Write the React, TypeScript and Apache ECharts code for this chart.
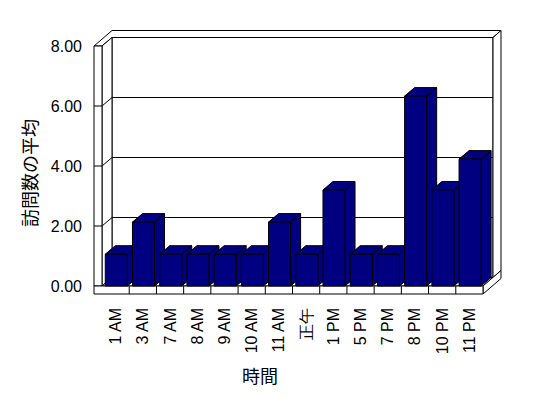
import React, { useEffect, useRef } from "react";
import * as echarts from "echarts";

const categories = ["1 AM", "3 AM", "7 AM", "8 AM", "9 AM", "10 AM", "11 AM", "正午", "1 PM", "5 PM", "7 PM", "8 PM", "10 PM", "11 PM"];
const visitAverages = [1.06, 2.13, 1.06, 1.06, 1.06, 1.06, 2.13, 1.06, 3.2, 1.06, 1.06, 6.33, 3.2, 4.23];
const yTicks = [0, 2, 4, 6, 8];
const xAxisTitle = "時間";
const yAxisTitle = "訪問数の平均";

const DX = 10;
const DY = -8.5;
const WALL = 8;
const BX = 8;
const BY = -7;
const NAVY = "#000080";
const FACE = { fill: "#ffffff", stroke: "#000000", lineWidth: 1 };
const EDGE = { stroke: "#000000", lineWidth: 1 };

function renderFrame(params: any, api: any) {
  const band = api.size([1, 0])[0];
  const x0 = api.coord([0, 0])[0] - band / 2;
  const x1 = api.coord([categories.length - 1, 0])[0] + band / 2;
  const yMin = yTicks[0];
  const yMax = yTicks[yTicks.length - 1];
  const y0 = api.coord([0, yMin])[1];
  const yT = api.coord([0, yMax])[1];
  const ch: any[] = [];
  // back wall front face
  ch.push({ type: "rect", shape: { x: x0 + DX, y: yT + DY, width: x1 - x0, height: y0 - yT }, style: FACE });
  yTicks.slice(1, -1).forEach((t) => {
    const y = api.coord([0, t])[1];
    ch.push({ type: "line", shape: { x1: x0 + DX, y1: y + DY, x2: x1 + DX, y2: y + DY }, style: EDGE });
  });
  // top of left wall + back wall
  ch.push({
    type: "polygon",
    shape: {
      points: [
        [x0 - WALL, yT],
        [x0, yT],
        [x0 + DX, yT + DY],
        [x1 + DX, yT + DY],
        [x1 + DX + BX, yT + DY + BY],
        [x0 - WALL + DX + BX, yT + DY + BY],
      ],
    },
    style: FACE,
  });
  // back wall right face
  ch.push({
    type: "polygon",
    shape: {
      points: [
        [x1 + DX, yT + DY],
        [x1 + DX + BX, yT + DY + BY],
        [x1 + DX + BX, y0 + DY + BY],
        [x1 + DX, y0 + DY],
      ],
    },
    style: FACE,
  });
  // left wall inner face
  ch.push({
    type: "polygon",
    shape: { points: [[x0, yT], [x0 + DX, yT + DY], [x0 + DX, y0 + DY], [x0, y0]] },
    style: FACE,
  });
  // left wall front face
  ch.push({ type: "rect", shape: { x: x0 - WALL, y: yT, width: WALL, height: y0 - yT }, style: FACE });
  yTicks.slice(1, -1).forEach((t) => {
    const y = api.coord([0, t])[1];
    ch.push({ type: "line", shape: { x1: x0 - WALL, y1: y, x2: x0, y2: y }, style: EDGE });
    ch.push({ type: "line", shape: { x1: x0, y1: y, x2: x0 + DX, y2: y + DY }, style: EDGE });
  });
  // floor top face
  ch.push({
    type: "polygon",
    shape: { points: [[x0, y0], [x1, y0], [x1 + DX, y0 + DY], [x0 + DX, y0 + DY]] },
    style: FACE,
  });
  // floor right face
  ch.push({
    type: "polygon",
    shape: {
      points: [
        [x1, y0],
        [x1 + DX + BX, y0 + DY + BY],
        [x1 + DX + BX, y0 + DY + BY + WALL],
        [x1, y0 + WALL],
      ],
    },
    style: FACE,
  });
  // floor front face
  ch.push({ type: "rect", shape: { x: x0 - WALL, y: y0, width: x1 - x0 + WALL, height: WALL }, style: FACE });
  for (let k = 1; k < categories.length; k++) {
    const x = x0 + k * band;
    ch.push({ type: "line", shape: { x1: x, y1: y0, x2: x, y2: y0 + WALL }, style: EDGE });
  }
  return { type: "group", children: ch };
}

function renderBar(params: any, api: any) {
  const idx = api.value(0);
  const v = api.value(1);
  const band = api.size([1, 0])[0];
  const cx = api.coord([idx, 0])[0];
  const yb = api.coord([idx, 0])[1];
  const yt = api.coord([idx, v])[1];
  const L = cx - band / 2 + band * 0.12;
  const R = L + band * 0.81;
  const st = { fill: NAVY, stroke: "#000000", lineWidth: 1 };
  return {
    type: "group",
    children: [
      {
        type: "polygon",
        shape: { points: [[R, yt], [R + DX, yt + DY], [R + DX, yb + DY], [R, yb]] },
        style: st,
      },
      {
        type: "polygon",
        shape: { points: [[L, yt], [R, yt], [R + DX, yt + DY], [L + DX, yt + DY]] },
        style: st,
      },
      { type: "rect", shape: { x: L, y: yt, width: R - L, height: yb - yt }, style: st },
    ],
  };
}

export default function App() {
  const ref = useRef<HTMLDivElement>(null);
  useEffect(() => {
    if (!ref.current) return;
    const chart = echarts.init(ref.current, undefined, { renderer: "svg" });
    chart.setOption({
      animation: false,
      backgroundColor: "#ffffff",
      grid: { left: 102, top: 46, right: 65, bottom: 112, containLabel: false },
      xAxis: {
        type: "category",
        data: categories,
        axisLine: { show: false },
        axisTick: { show: false },
        splitLine: { show: false },
        axisLabel: {
          rotate: 90,
          margin: 22,
          interval: 0,
          fontSize: 16,
          fontFamily: "Liberation Sans",
          color: "#000000",
        },
      },
      yAxis: {
        type: "value",
        min: 0,
        max: 8,
        interval: 2,
        axisLine: { show: false },
        axisTick: { show: false },
        splitLine: { show: false },
        axisLabel: {
          margin: 20,
          fontSize: 16,
          fontFamily: "Liberation Sans",
          color: "#000000",
          formatter: (v: number) => v.toFixed(2),
        },
      },
      graphic: [
        {
          type: "text",
          x: 28.5,
          y: 173,
          rotation: Math.PI / 2,
          style: {
            text: yAxisTitle,
            fontSize: 18,
            fontFamily: "Noto Sans CJK JP",
            fill: "#000000",
            align: "center",
            verticalAlign: "middle",
          },
        },
        {
          type: "text",
          x: 260,
          y: 375,
          style: {
            text: xAxisTitle,
            fontSize: 18,
            fontFamily: "Noto Sans CJK JP",
            fill: "#000000",
            align: "center",
            verticalAlign: "middle",
          },
        },
      ],
      series: [
        {
          type: "custom",
          name: "frame",
          silent: true,
          z: 1,
          renderItem: renderFrame,
          data: [[0, 0]],
        },
        {
          type: "custom",
          name: "訪問数の平均",
          z: 2,
          renderItem: renderBar,
          encode: { x: 0, y: 1 },
          data: visitAverages.map((v, i) => [i, v]),
        },
      ],
    });
    return () => chart.dispose();
  }, []);
  return (
    <div
      ref={ref}
      style={{ position: "fixed", left: 0, top: 0, width: 548, height: 398, background: "#ffffff" }}
    />
  );
}
